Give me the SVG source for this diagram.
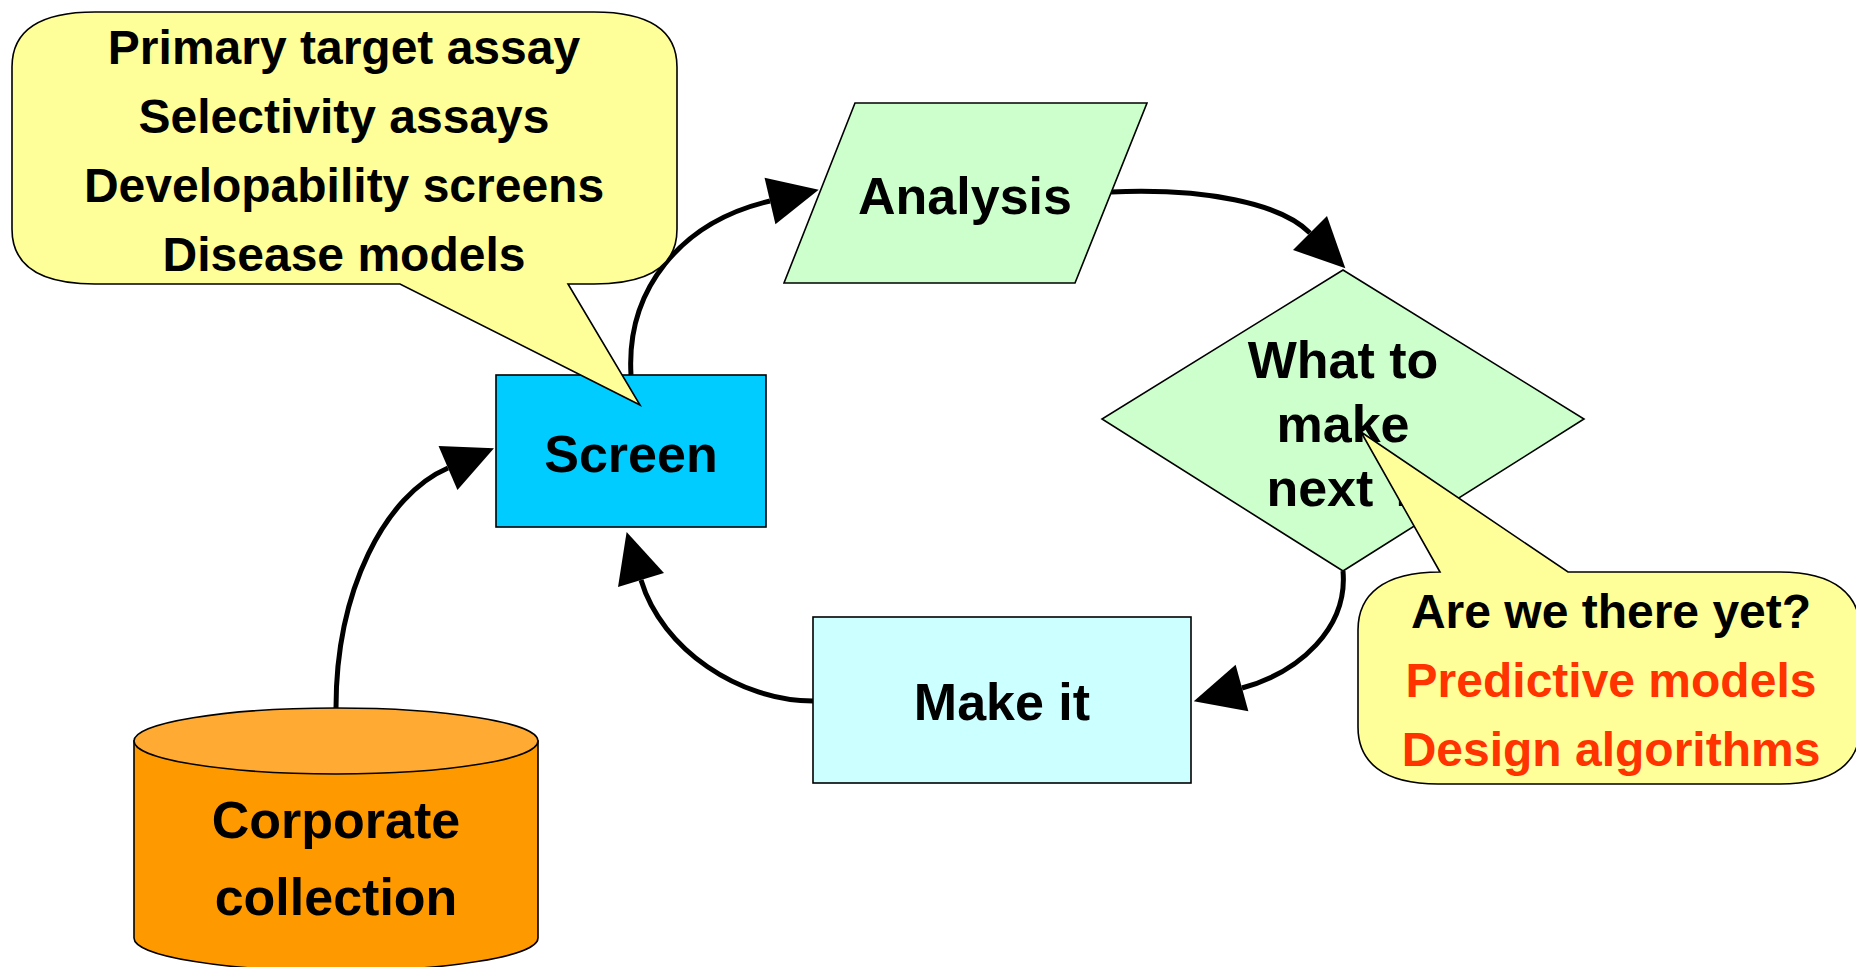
<svg xmlns="http://www.w3.org/2000/svg" width="1856" height="967" viewBox="0 0 1856 967">
  <defs>
    <marker id="arrow" markerUnits="userSpaceOnUse" markerWidth="52" markerHeight="48" refX="0" refY="24" orient="auto" overflow="visible">
      <path d="M0,0 L50,24 L0,48 Z" fill="#000"/>
    </marker>
  </defs>
  <style>
    .node { stroke: #000; stroke-width: 1.6; }
    .conn { fill: none; stroke: #000; stroke-width: 5; marker-end: url(#arrow); }
    .lbl { font-family: "Liberation Sans", Arial, sans-serif; font-weight: bold; font-size: 52px; text-anchor: middle; fill: #000; }
    .note { font-family: "Liberation Sans", Arial, sans-serif; font-weight: bold; font-size: 48px; text-anchor: middle; fill: #000; }
    .red { fill: #FF3300; }
    .callout { fill: #FFFF99; stroke: #000; stroke-width: 1.6; }
  </style>

  <rect width="1856" height="967" fill="#fff"/>

  <!-- connectors -->
  <g id="connectors">
    <path class="conn" d="M336,708 C336,590 385,495 448,468"/>
    <path class="conn" d="M631,375 C626,290 680,222 770,201"/>
    <path class="conn" d="M1111,192 C1205,188 1280,203 1310,233"/>
    <path class="conn" d="M1343,571 C1348,628 1300,672 1242,688"/>
    <path class="conn" d="M813,701 C740,701 662,650 641,580"/>
  </g>

  <!-- Corporate collection (database cylinder) -->
  <g id="corporate">
    <path class="node" fill="#FF9900" d="M134,741 V938 A202,33 0 0 0 538,938 V741 Z"/>
    <ellipse class="node" cx="336" cy="741" rx="202" ry="33" fill="#FFAA33"/>
    <text class="lbl" x="336" y="838">Corporate</text>
    <text class="lbl" x="336" y="915">collection</text>
  </g>

  <!-- Screen -->
  <g id="screen">
    <rect class="node" x="496" y="375" width="270" height="152" fill="#00CCFF"/>
    <text class="lbl" x="631" y="472">Screen</text>
  </g>

  <!-- Analysis (parallelogram) -->
  <g id="analysis">
    <polygon class="node" points="855,103 1147,103 1075,283 784,283" fill="#CCFFCC"/>
    <text class="lbl" x="965" y="214">Analysis</text>
  </g>

  <!-- Decision -->
  <g id="decision">
    <polygon class="node" points="1343,270 1584,419 1343,571 1102,419" fill="#CCFFCC"/>
    <text class="lbl" x="1343" y="378">What to</text>
    <text class="lbl" x="1343" y="442">make</text>
    <text class="lbl" x="1343" y="506">next ?</text>
  </g>

  <!-- Make it -->
  <g id="make-it">
    <rect class="node" x="813" y="617" width="378" height="166" fill="#CCFFFF"/>
    <text class="lbl" x="1002" y="720">Make it</text>
  </g>

  <!-- assay callout -->
  <g id="assay-note">
    <path class="callout" d="M95,12 H594 C652,12 677,32 677,67 V229 C677,264 652,284 594,284 H568 L640,405 L400,284 H95 C38,284 12,264 12,229 V67 C12,32 38,12 95,12 Z"/>
    <text class="note" x="344" y="64">Primary target assay</text>
    <text class="note" x="344" y="133">Selectivity assays</text>
    <text class="note" x="344" y="202">Developability screens</text>
    <text class="note" x="344" y="271">Disease models</text>
  </g>

  <!-- modelling callout -->
  <g id="model-note">
    <path class="callout" d="M1440,572 L1361,432 L1568,572 H1780 C1835,572 1860,595 1860,630 V727 C1860,762 1835,784 1780,784 H1438 C1383,784 1358,762 1358,727 V630 C1358,595 1383,572 1440,572 Z"/>
    <text class="note" x="1611" y="628">Are we there yet?</text>
    <text class="note red" x="1611" y="697">Predictive models</text>
    <text class="note red" x="1611" y="766">Design algorithms</text>
  </g>
</svg>
